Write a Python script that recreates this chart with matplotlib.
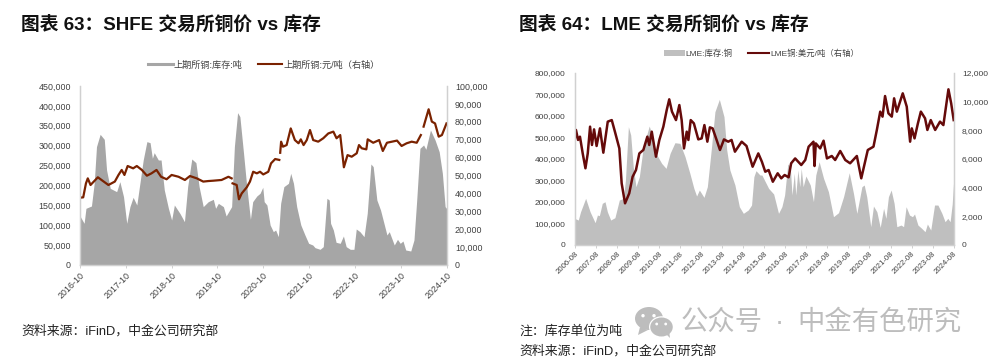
import matplotlib

matplotlib.use("Agg")
import matplotlib.pyplot as plt
from matplotlib.lines import Line2D
from matplotlib.patches import Ellipse, Polygon, Rectangle

plt.rcParams["font.family"] = ["Liberation Sans", "Noto Sans CJK SC", "DejaVu Sans"]

# x values are years after the first tick of each chart
shfe_ticks = ["2016-10", "2017-10", "2018-10", "2019-10", "2020-10", "2021-10", "2022-10", "2023-10", "2024-10"]
lme_ticks = ["2006-08", "2007-08", "2008-08", "2009-08", "2010-08", "2011-08", "2012-08", "2013-08", "2014-08",
             "2015-08", "2016-08", "2017-08", "2018-08", "2019-08", "2020-08", "2021-08", "2022-08", "2023-08", "2024-08"]

shfe_stock_x = [0, .09, .13, .25, .31, .36, .44, .53, .58, .66, .80, .87, .95, 1.02, 1.09, 1.16, 1.24, 1.38, 1.46, 1.53,
                1.58, 1.62, 1.71, 1.77, 1.84, 1.93, 2.00, 2.06, 2.18, 2.28, 2.35, 2.44, 2.53, 2.60, 2.69, 2.80, 2.91,
                2.96, 3.02, 3.13, 3.19, 3.31, 3.37, 3.44, 3.49, 3.57, 3.64, 3.72, 3.77, 3.86, 3.93, 3.99, 4.02, 4.08,
                4.15, 4.22, 4.27, 4.33, 4.38, 4.45, 4.55, 4.60, 4.66, 4.73, 4.82, 4.91, 4.99, 5.08, 5.13, 5.24, 5.31,
                5.39, 5.44, 5.47, 5.53, 5.59, 5.68, 5.75, 5.81, 5.90, 5.98, 6.03, 6.11, 6.20, 6.27, 6.35, 6.40, 6.48,
                6.56, 6.70, 6.75, 6.86, 6.93, 6.99, 7.05, 7.11, 7.22, 7.29, 7.35, 7.42, 7.50, 7.55, 7.65, 7.75, 7.84,
                7.91, 7.97, 8.00]
shfe_stock = [123200, 104750, 142500, 148300, 205300, 297500, 328500, 315900, 238800, 192700, 184400, 209500, 171800,
              104800, 146700, 170100, 150800, 264000, 310100, 307500, 268200, 282400, 264000, 264000, 188600, 142500,
              113100, 150800, 129900, 108900, 196900, 266500, 257300, 196900, 146700, 159200, 165100, 142500, 155000,
              146700, 123200, 146700, 297500, 383000, 372900, 280700, 196900, 114800, 159200, 173500, 180200, 195300,
              159200, 150800, 100600, 83800, 88000, 71200, 155000, 196900, 205300, 230500, 205300, 146700, 100600,
              75400, 54500, 50300, 43600, 39400, 46100, 167600, 163400, 104800, 88000, 57000, 54500, 72900, 46100,
              39400, 39400, 90500, 83800, 71200, 129900, 253900, 247200, 163400, 138300, 75400, 83800, 50300, 64500,
              54500, 60300, 37700, 35200, 62900, 163400, 293300, 301700, 290800, 339400, 314300, 284900, 230500,
              146700, 142500]

nan = float("nan")
shfe_price_x = [0, .07, .13, .17, .23, .39, .47, .62, .76, .84, .91, .97, 1.04, 1.16, 1.24, 1.35, 1.46, 1.56, 1.67,
                1.77, 1.89, 2.00, 2.15, 2.29, 2.40, 2.55, 2.69, 2.80, 2.91, 3.09, 3.24, 3.31, 3.32, 3.33, 3.42, 3.47,
                3.53, 3.64, 3.71, 3.78, 3.86, 3.93, 4.00, 4.11, 4.17, 4.26, 4.35, 4.36, 4.37, 4.39, 4.43, 4.51, 4.60,
                4.69, 4.77, 4.82, 4.88, 4.95, 5.02, 5.09, 5.20, 5.31, 5.42, 5.53, 5.60, 5.68, 5.76, 5.84, 5.93, 6.04,
                6.09, 6.15, 6.25, 6.28, 6.40, 6.53, 6.61, 6.70, 6.81, 6.92, 7.02, 7.13, 7.24, 7.35, 7.44, 7.47, 7.50,
                7.61, 7.68, 7.75, 7.83, 7.90, 8.00]
shfe_price = [37600, 37800, 45600, 48400, 44700, 49000, 47500, 44700, 46600, 50300, 53100, 50300, 55300, 54000, 55300,
              53100, 49900, 51200, 53100, 49300, 47900, 50300, 49300, 47500, 49700, 48400, 46600, 46900, 47100, 47500,
              49300, 48400, nan, 45600, 44700, 36700, 40000, 43400, 46600, 52100, 51200, 52100, 50600, 52100, 56800,
              59200, 58700, nan, 62700, 68900, 66100, 67000, 76300, 69800, 68000, 70200, 67000, 69800, 75400, 69800,
              68900, 70800, 73500, 74500, 70800, 72600, 54600, 61400, 60500, 62400, 67000, 65200, 64600, 70200, 68300,
              69800, 63700, 68300, 68900, 69500, 66500, 68000, 68900, 68300, 72600, nan, 77300, 87000, 80100, 79100,
              71700, 72600, 79100]

lme_stock_x = [0, .17, .28, .52, .73, .97, 1.08, 1.17, 1.31, 1.44, 1.55, 1.71, 1.91, 2.12, 2.31, 2.41, 2.55, 2.66,
               2.78, 2.91, 3.07, 3.26, 3.54, 3.70, 3.86, 4.13, 4.34, 4.53, 4.76, 5.00, 5.24, 5.47, 5.66, 5.79, 5.92,
               6.14, 6.30, 6.50, 6.66, 6.87, 7.09, 7.22, 7.37, 7.61, 7.82, 8.01, 8.24, 8.40, 8.51, 8.61, 8.80, 8.89,
               9.21, 9.45, 9.68, 9.84, 9.97, 10.12, 10.24, 10.32, 10.43, 10.50, 10.60, 10.69, 10.76, 10.85, 10.98,
               11.19, 11.34, 11.45, 11.61, 11.82, 12.05, 12.29, 12.53, 12.77, 13.04, 13.24, 13.40, 13.64, 13.75,
               13.87, 14.06, 14.19, 14.35, 14.51, 14.67, 14.78, 14.90, 15.03, 15.17, 15.30, 15.50, 15.62, 15.74,
               15.90, 16.04, 16.14, 16.30, 16.48, 16.64, 16.75, 16.91, 17.09, 17.25, 17.44, 17.59, 17.72, 17.83,
               17.93, 18.00]
lme_stock = [122700, 114900, 153700, 215900, 153700, 102500, 138200, 135100, 192600, 200300, 153700, 114900, 125800,
             208100, 215900, 301300, 549800, 510900, 363400, 270200, 316800, 456600, 552900, 503200, 425500, 378900,
             355600, 425500, 475200, 472100, 410000, 332300, 262500, 226700, 254700, 220500, 270200, 456600, 619600,
             677100, 596400, 441100, 347900, 278000, 177000, 146000, 161500, 184800, 316800, 344800, 324600, 324600,
             262500, 236100, 146000, 177000, 231400, 375800, 363400, 231400, 332300, 231400, 347900, 270200, 355600,
             270200, 319900, 278000, 200300, 324600, 386700, 309000, 246900, 130500, 149100, 223600, 335400, 239200,
             146000, 270200, 278000, 223600, 83900, 180100, 153700, 80800, 169300, 122700, 223600, 254700, 192600,
             83900, 91600, 83900, 177000, 138200, 130500, 142900, 91600, 76100, 60600, 96300, 68300, 184800, 184800,
             146000, 107200, 122700, 107200, 190000, 300000]

lme_price_x = [0, .06, .16, .25, .38, .51, .62, .73, .82, .92, 1.04, 1.20, 1.36, 1.57, 1.76, 1.91, 2.12, 2.23, 2.39,
               2.59, 2.75, 2.91, 3.07, 3.26, 3.45, 3.54, 3.66, 3.86, 4.02, 4.21, 4.37, 4.49, 4.62, 4.81, 4.97, 5.08,
               5.19, 5.32, 5.40, 5.51, 5.66, 5.87, 6.03, 6.16, 6.30, 6.42, 6.55, 6.74, 6.90, 7.09, 7.29, 7.45, 7.61,
               7.93, 8.16, 8.45, 8.72, 8.89, 9.05, 9.21, 9.41, 9.64, 9.81, 9.97, 10.16, 10.28, 10.47, 10.76, 10.95,
               11.11, 11.34, 11.39, 11.45, 11.66, 11.82, 11.98, 12.21, 12.37, 12.61, 12.85, 13.08, 13.40, 13.61,
               13.92, 14.19, 14.35, 14.51, 14.62, 14.74, 14.90, 15.06, 15.17, 15.30, 15.58, 15.77, 15.93, 16.01,
               16.14, 16.30, 16.44, 16.64, 16.75, 16.91, 17.12, 17.35, 17.51, 17.75, 17.88, 18.00]
lme_price = [7320, 8020, 7320, 7550, 6380, 5340, 6380, 8250, 6970, 8060, 6900, 8130, 6430, 8600, 8710, 7900, 6730,
             4290, 2890, 3590, 4750, 5220, 6380, 6620, 7550, 6970, 7900, 6150, 7320, 8250, 9410, 10160, 9300, 8710,
             9760, 8710, 6730, 7900, 7320, 8710, 8480, 7360, 7430, 8360, 7200, 8200, 8130, 7320, 6620, 7360, 7200,
             7320, 6500, 7200, 6900, 5450, 6380, 5800, 5100, 5220, 4400, 4990, 4640, 4870, 4710, 5690, 6030, 5570,
             5920, 6850, 7200, 5500, 7080, 6730, 7270, 6030, 6200, 5920, 6550, 5920, 5690, 6200, 4640, 6620, 6850,
             8020, 9300, 8950, 10390, 9180, 8950, 10230, 9300, 10580, 9650, 7200, 8130, 7430, 8480, 9300, 8830, 8020,
             8710, 8020, 8600, 8360, 10860, 9880, 8710]

# full-width punctuation, written as escapes so it stays full width
COLON = "\uff1a"
COMMA = "\uff0c"
RIGHT_AXIS = "\uff08右轴\uff09"

W, H = 994, 363
TEXT = "#404040"
AXIS = "#d0d0d0"


def draw_panel(box, stock_x, stock, price_x, price, ticks, ymax, ytick, y2max, y2tick, fill, line, lw, fs, xfs,
               names, legend_anchor, stock_handle, leg_fs, handle_len, col_gap):
    left, top, right, bottom = box
    ax = fig.add_axes([left / W, 1 - bottom / H, (right - left) / W, (bottom - top) / H])
    ax.fill_between(stock_x, stock, 0, color=fill, linewidth=0)
    ax.set_xlim(0, len(ticks) - 1)
    ax.set_ylim(0, ymax)
    ax.set_yticks(range(0, ymax + 1, ytick))
    ax.set_yticklabels([f"{v:,}" for v in range(0, ymax + 1, ytick)])
    ax.set_xticks(range(len(ticks)))
    ax.set_xticklabels(ticks, rotation=45, ha="right", rotation_mode="anchor")
    ax.tick_params(axis="y", length=0, labelsize=fs, labelcolor=TEXT, pad=6.5)
    ax.tick_params(axis="x", length=2, width=0.7, color=AXIS, labelsize=xfs, labelcolor=TEXT, pad=2)

    ax2 = ax.twinx()
    ax2.plot(price_x, price, color=line, linewidth=lw, solid_joinstyle="round")
    ax2.set_ylim(0, y2max)
    ax2.set_yticks(range(0, y2max + 1, y2tick))
    ax2.set_yticklabels([f"{v:,}" for v in range(0, y2max + 1, y2tick)])
    ax2.tick_params(axis="y", length=0, labelsize=fs, labelcolor=TEXT, pad=6)

    for a in (ax, ax2):
        a.spines["top"].set_visible(False)
        for side in ("left", "right", "bottom"):
            a.spines[side].set_color(AXIS)
            a.spines[side].set_linewidth(0.9)

    handles = [stock_handle, Line2D([], [], color=line, linewidth=1.5)]
    ax.legend(handles, names, loc="center", bbox_to_anchor=(legend_anchor[0] / W, 1 - legend_anchor[1] / H),
              bbox_transform=fig.transFigure, ncol=2, frameon=False, fontsize=leg_fs, labelcolor=TEXT,
              handlelength=handle_len, handletextpad=0.1, columnspacing=col_gap, borderpad=0)


fig = plt.figure(figsize=(W / 100, H / 100), dpi=100)

draw_panel((80, 86, 446.5, 265), shfe_stock_x, shfe_stock, shfe_price_x, shfe_price, shfe_ticks,
           450000, 50000, 100000, 10000, "#a6a6a6", "#7a2200", 1.6, 6.4, 6.4,
           ["上期所铜:库存:吨", "上期所铜:元/吨" + RIGHT_AXIS], (264, 65),
           Line2D([], [], color="#a6a6a6", linewidth=2.2), 6.6, 2.65, 1.7)
draw_panel((574.7, 73, 953.7, 244.7), lme_stock_x, lme_stock, lme_price_x, lme_price, lme_ticks,
           800000, 100000, 12000, 2000, "#bfbfbf", "#650a0a", 1.8, 6.0, 5.6,
           ["LME:库存:铜", "LME铜:美元/吨" + RIGHT_AXIS], (761.5, 54),
           Rectangle((0, 0), 1, 1, facecolor="#bfbfbf", edgecolor="none"), 6.0, 2.5, 1.9)

# titles, notes and the watermark sit on a pixel-sized overlay
over = fig.add_axes([0, 0, 1, 1], zorder=5)
over.set_xlim(0, W)
over.set_ylim(H, 0)
over.axis("off")

source = "资料来源" + COLON + "iFinD" + COMMA + "中金公司研究部"
over.text(21, 25, "图表 63" + COLON + "SHFE 交易所铜价 vs 库存", fontsize=13.5, fontweight="bold", color="#111111", va="center")
over.text(519, 25, "图表 64" + COLON + "LME 交易所铜价 vs 库存", fontsize=13.5, fontweight="bold", color="#111111", va="center")
over.text(21, 331, source, fontsize=9.3, color="#222222", va="center")
over.text(519, 331, "注" + COLON + "库存单位为吨", fontsize=9.3, color="#222222", va="center")
over.text(519, 351, source, fontsize=9.3, color="#222222", va="center")

icon = "#bdbdbd"
over.add_patch(Ellipse((649, 318.5), 28, 23, color=icon, linewidth=0))
over.add_patch(Polygon([[640, 327], [638, 335], [648, 330]], color=icon, linewidth=0))
over.add_patch(Ellipse((661.5, 327), 25, 21.5, color="white", linewidth=0))
over.add_patch(Ellipse((661.5, 327), 22.5, 19, color=icon, linewidth=0))
over.add_patch(Polygon([[665, 333], [670, 338], [669, 330]], color=icon, linewidth=0))
for cx, cy, r in [(643, 315.7, 3.4), (654, 315.7, 3.4), (656.7, 324, 2.8), (665.7, 324, 2.8)]:
    over.add_patch(Ellipse((cx, cy), r, r, color="white", linewidth=0))
over.text(681, 323, "公众号", fontsize=19.7, color="#bdbdbd", va="center")
over.text(779, 323, "·", fontsize=19.7, color="#bdbdbd", va="center", ha="center")
over.text(797.5, 323, "中金有色研究", fontsize=19.7, color="#bdbdbd", va="center")

fig.savefig("out.png", dpi=100)
